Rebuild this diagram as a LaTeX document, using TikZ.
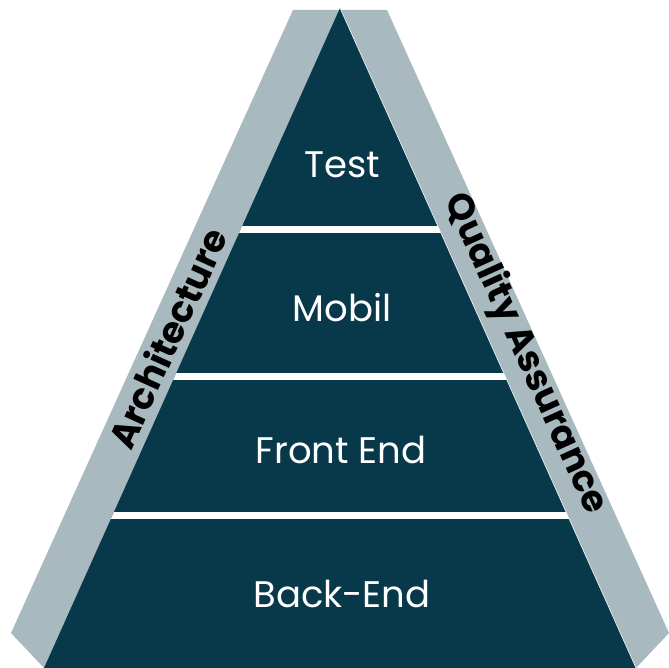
\documentclass[tikz,border=0pt]{standalone}
\usepackage{fontspec}
\setmainfont{Poppins}
\usetikzlibrary{positioning,calc}

\definecolor{pyrdark}{RGB}{8,57,75}
\definecolor{pyrgrey}{RGB}{168,185,192}

\tikzset{
  tier/.style={text=white, font=\fontsize{37}{44}\selectfont},
  side/.style={text=black, font=\fontsize{36.5}{44}\selectfont\bfseries}
}

\begin{document}
\begin{tikzpicture}[x=1pt,y=1pt]
  \useasboundingbox (0,0) rectangle (669,668);
  % side bands
  \fill[pyrgrey] (293,658) -- (340,658) -- (44,0) -- (11,35) -- cycle;
  \fill[pyrgrey] (387,658) -- (340,658) -- (636,0) -- (669,35) -- cycle;
  % pyramid
  \coordinate (apex) at (340,660);
  \coordinate (bl) at (44,0);
  \coordinate (br) at (636,0);
  \fill[pyrdark] (apex) -- (bl) -- (br) -- cycle;
  \draw[white, line width=0.6pt] (apex) -- (br);
  \begin{scope}
    \clip (apex) -- (bl) -- (br) -- cycle;
    \foreach \y in {438,291.5,152.5}
      \fill[white] (0,\y-3.5) rectangle (669,\y+3.5);
  \end{scope}
  % tiers
  \node[tier] (test) at (342,503) {Test};
  \node[tier] (mobil) at (342,360) {Mobil};
  \node[tier] (frontend) at (341,218) {Front End};
  \node[tier] (backend) at (342,74) {Back-End};
  % labels on the bands
  \node[side, rotate=65.6] (arch) at (167,330) {Architecture};
  \node[side, rotate=-65.6] (qa) at (525,314) {Quality Assurance};
\end{tikzpicture}
\end{document}
